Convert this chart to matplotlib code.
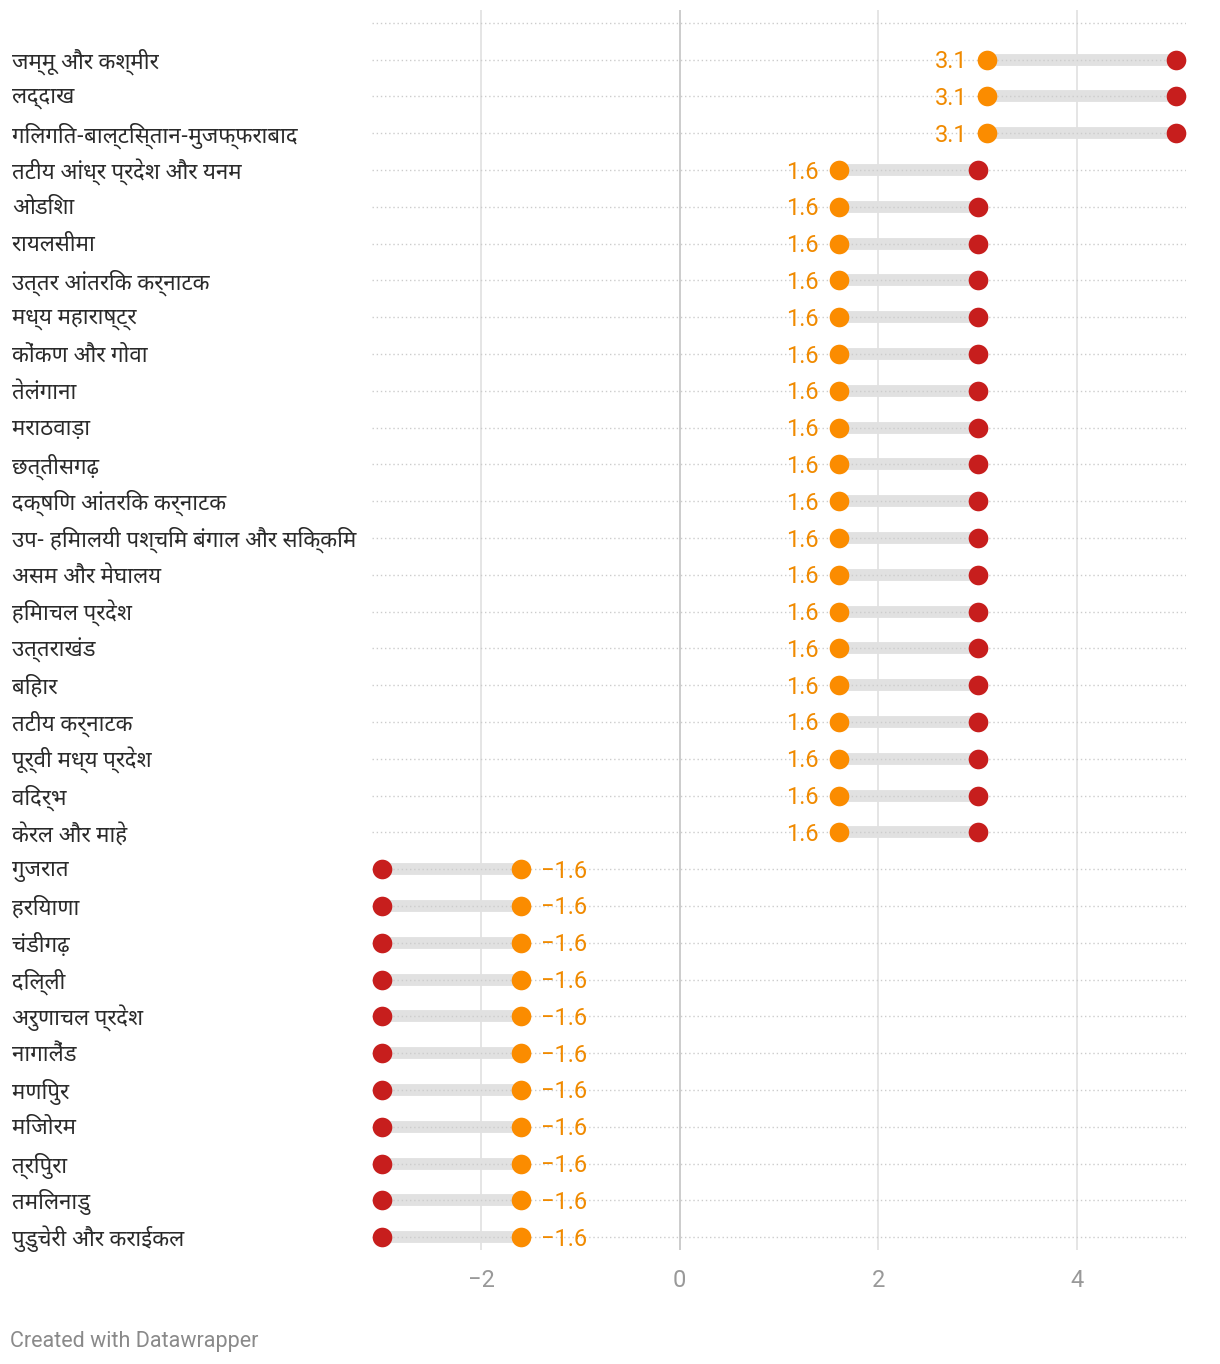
"""Dumbbell chart of subdivision ranges (recreated)."""

import matplotlib

matplotlib.use("Agg")

import matplotlib.pyplot as plt
import matplotlib.transforms as mtransforms
from matplotlib import font_manager
from matplotlib.ft2font import FT2Font

regions = [
    "जम्मू और कश्मीर", "लद्दाख", "गिलगित-बाल्टिस्तान-मुजफ्फराबाद",
    "तटीय आंध्र प्रदेश और यनम", "ओडिशा", "रायलसीमा", "उत्तर आंतरिक कर्नाटक",
    "मध्य महाराष्ट्र", "कोंकण और गोवा", "तेलंगाना", "मराठवाड़ा", "छत्तीसगढ़",
    "दक्षिण आंतरिक कर्नाटक", "उप- हिमालयी पश्चिम बंगाल और सिक्किम",
    "असम और मेघालय", "हिमाचल प्रदेश", "उत्तराखंड", "बिहार", "तटीय कर्नाटक",
    "पूर्वी मध्य प्रदेश", "विदर्भ", "केरल और माहे", "गुजरात", "हरियाणा",
    "चंडीगढ़", "दिल्ली", "अरुणाचल प्रदेश", "नागालैंड", "मणिपुर", "मिजोरम",
    "त्रिपुरा", "तमिलनाडु", "पुडुचेरी और कराईकल",
]
low_vals = [3.1, 3.1, 3.1,
            1.6, 1.6, 1.6, 1.6, 1.6, 1.6, 1.6, 1.6, 1.6, 1.6,
            1.6, 1.6, 1.6, 1.6, 1.6, 1.6, 1.6, 1.6, 1.6,
            -1.6, -1.6, -1.6, -1.6, -1.6, -1.6, -1.6, -1.6, -1.6, -1.6, -1.6]
high_vals = [5.0, 5.0, 5.0,
             3.0, 3.0, 3.0, 3.0, 3.0, 3.0, 3.0, 3.0, 3.0, 3.0,
             3.0, 3.0, 3.0, 3.0, 3.0, 3.0, 3.0, 3.0, 3.0,
             -3.0, -3.0, -3.0, -3.0, -3.0, -3.0, -3.0, -3.0, -3.0, -3.0, -3.0]
x_ticks = [-2, 0, 2, 4]

ORANGE = "#fb8c00"
ORANGE_TEXT = "#f08a00"
RED = "#c71e1d"


def find_devanagari_font():
    # prefer Noto Sans Devanagari, otherwise the most compact font with the glyphs
    best, best_w = None, None
    for entry in font_manager.fontManager.ttflist:
        try:
            ft = FT2Font(entry.fname)
            if 0x0915 not in ft.get_charmap():
                continue
        except Exception:
            continue
        if "Noto Sans Devanagari" in entry.name and entry.weight in (400, "normal", "regular"):
            return entry.name
        ft.set_size(16, 100)
        ft.set_text("कर्नाटक प्रदेश")
        w = ft.get_width_height()[0]
        if best_w is None or w < best_w:
            best, best_w = entry.name, w
    return best


deva = find_devanagari_font()
label_family = ([deva] if deva else []) + ["Noto Sans", "DejaVu Sans"]
plt.rcParams["font.family"] = ["Roboto", "DejaVu Sans"]

fig = plt.figure(figsize=(12.2, 13.64), dpi=100)
ax = fig.add_axes([372 / 1220, 1 - 1250 / 1364, (1186 - 372) / 1220, 1240 / 1364])
ax.set_xlim(-3.1, 5.1)
ax.set_ylim(32.35, -1.35)

rows = list(range(len(regions)))

# row guides (one extra above the first row, like the original)
for r in [-1] + rows:
    ax.axhline(r, color="#cccccc", linestyle=(0, (1, 2)), linewidth=1, zorder=2)

for t in x_ticks:
    ax.axvline(t, color="#c8c8c8" if t == 0 else "#e3e3e3", linewidth=1.3, zorder=1)

ax.hlines(rows, low_vals, high_vals, color="#e1e1e1", linewidth=8.5, zorder=1.5)
ax.scatter(high_vals, rows, s=200, color=RED, zorder=3, linewidths=0)
ax.scatter(low_vals, rows, s=200, color=ORANGE, zorder=4, linewidths=0)

for r, lo, hi in zip(rows, low_vals, high_vals):
    txt = f"{lo:.1f}".replace("-", "\u2212")
    if lo < hi:
        ax.annotate(txt, (lo, r), xytext=(-20, -2), textcoords="offset pixels",
                    ha="right", va="center", color=ORANGE_TEXT, fontsize=17)
    else:
        ax.annotate(txt, (lo, r), xytext=(20, -2), textcoords="offset pixels",
                    ha="left", va="center", color=ORANGE_TEXT, fontsize=17)

label_tr = mtransforms.blended_transform_factory(fig.transFigure, ax.transData)
label_tr = label_tr + mtransforms.ScaledTranslation(0, -2 / 100, fig.dpi_scale_trans)
for r, name in zip(rows, regions):
    ax.text(12 / 1220, r, name, transform=label_tr, clip_on=False,
            ha="left", va="center", fontsize=16, color="#2a2a2a", family=label_family)

ax.set_xticks(x_ticks)
ax.set_xticklabels([str(t).replace("-", "\u2212") for t in x_ticks])
ax.tick_params(axis="x", length=0, pad=14, labelsize=17, labelcolor="#999999")
ax.set_yticks([])
for spine in ax.spines.values():
    spine.set_visible(False)

fig.text(10 / 1220, 1 - 1341 / 1364, "Created with Datawrapper", fontsize=15.5,
         color="#8a8a8a", va="center", ha="left")

fig.savefig("out.png", dpi=100)
plt.close(fig)
